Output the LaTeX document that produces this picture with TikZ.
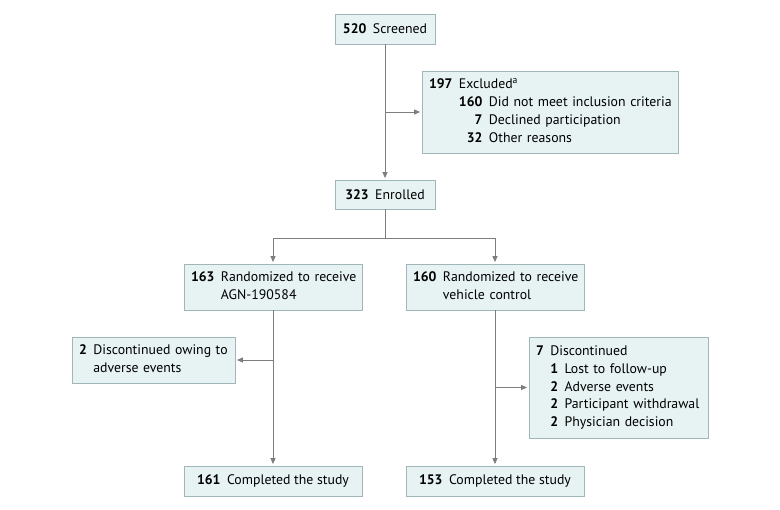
\documentclass[tikz,border=0pt]{standalone}
\usepackage{fontspec}
\setmainfont{PT Sans}
\usetikzlibrary{arrows.meta, positioning, calc}
\definecolor{boxfill}{RGB}{231,242,243}
\definecolor{boxline}{RGB}{160,182,187}
\definecolor{flowgray}{RGB}{125,125,125}
\newcommand{\numgap}{\hspace{6.5pt}}

\begin{document}
\begin{tikzpicture}[x=1pt, y=-1pt,
  stagebox/.style={draw=boxline, fill=boxfill, line width=0.8pt, inner xsep=7pt, inner ysep=0pt, align=left, font=\fontsize{13.8}{17.8}\selectfont},
  flowline/.style={draw=flowgray, line width=0.8pt},
  flow/.style={flowline, -{Triangle[length=6pt, width=5pt]}, shorten >=1.5pt}]
  \useasboundingbox (0,0) rectangle (780,510);

  \node[stagebox, minimum width=100, minimum height=30, align=center] (screen) at (385,29) {\textbf{520}\numgap Screened};
  \node[stagebox, text width=242, minimum height=82] (excl) at (550,112)
    {\begin{tabular}{@{}r@{\numgap}r@{\numgap}l@{}}
      \textbf{197} & \multicolumn{2}{@{}l@{}}{Excluded\textsuperscript{a}}\\
      & \textbf{160} & Did not meet inclusion criteria\\
      & \textbf{7} & Declined participation\\
      & \textbf{32} & Other reasons
    \end{tabular}};
  \node[stagebox, minimum width=100, minimum height=29, align=center] (enrol) at (385,194.5) {\textbf{323}\numgap Enrolled};

  \coordinate (split) at (385,238);
  \node[stagebox, text width=164, minimum height=46] (armA) at (273,287)
    {\begin{tabular}{@{}l@{\numgap}l@{}}
      \textbf{163} & Randomized to receive\\
      & AGN-190584
    \end{tabular}};
  \node[stagebox, text width=164, minimum height=46] (armB) at (495,287)
    {\begin{tabular}{@{}l@{\numgap}l@{}}
      \textbf{160} & Randomized to receive\\
      & vehicle control
    \end{tabular}};

  \node[stagebox, text width=149, minimum height=46] (discA) at (153.5,360)
    {\begin{tabular}{@{}l@{\numgap}l@{}}
      \textbf{2} & Discontinued owing to\\
      & adverse events
    \end{tabular}};
  \node[stagebox, text width=165, minimum height=101] (discB) at (618.5,387.5)
    {\begin{tabular}{@{}r@{\numgap}r@{\numgap}l@{}}
      \textbf{7} & \multicolumn{2}{@{}l@{}}{Discontinued}\\
      & \textbf{1} & Lost to follow-up\\
      & \textbf{2} & Adverse events\\
      & \textbf{2} & Participant withdrawal\\
      & \textbf{2} & Physician decision
    \end{tabular}};

  \node[stagebox, minimum width=178, minimum height=30, align=center] (compA) at (273,481) {\textbf{161}\numgap Completed the study};
  \node[stagebox, minimum width=178, minimum height=30, align=center] (compB) at (495,481) {\textbf{153}\numgap Completed the study};

  \draw[flow] (screen.south) -- (enrol.north);
  \draw[flow] (screen.south |- excl.west) -- (excl.west);

  \draw[flowline] (enrol.south) -- (split);
  \draw[flow] (split) -| (armA.north);
  \draw[flow] (split) -| (armB.north);

  \draw[flow] (armA.south) -- (compA.north);
  \draw[flow] (armA.south |- discA.east) -- (discA.east);
  \draw[flow] (armB.south) -- (compB.north);
  \draw[flow] (armB.south |- discB.west) -- (discB.west);
\end{tikzpicture}
\end{document}
